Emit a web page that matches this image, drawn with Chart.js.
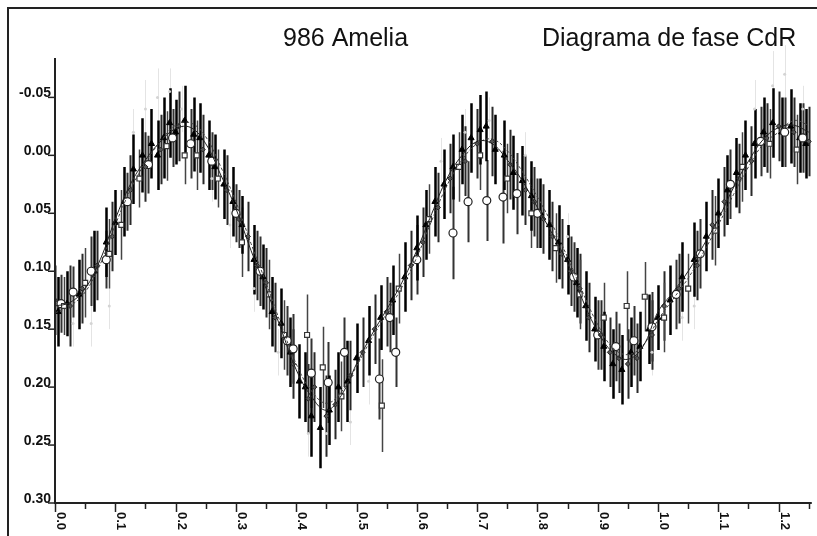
<!DOCTYPE html>
<html lang="es">
<head>
<meta charset="utf-8">
<title>986 Amelia — Diagrama de fase CdR</title>
<script src="https://cdn.jsdelivr.net/npm/chart.js@4/dist/chart.umd.min.js"></script>
<style>
  html, body { margin: 0; padding: 0; background: #fff; }
  canvas { display: block; }
</style>
</head>
<body>
<canvas id="phaseChart" width="817" height="536"></canvas>
<script>
/* ============================================================
   Diagrama de fase — 986 Amelia (magnitud relativa vs fase)
   ============================================================ */

const titleLeft  = '986 Amelia';
const titleRight = 'Diagrama de fase CdR';

const xTicks = [0.0, 0.1, 0.2, 0.3, 0.4, 0.5, 0.6, 0.7, 0.8, 0.9, 1.0, 1.1, 1.2];
const yTicks = [-0.05, 0.00, 0.05, 0.10, 0.15, 0.20, 0.25, 0.30];

/* ── curvas de ajuste ── */
const fitPhase = [0, 0.025, 0.05, 0.075, 0.1, 0.125, 0.15, 0.175, 0.2, 0.225, 0.25, 0.275, 0.3, 0.325, 0.35,
  0.375, 0.4, 0.425, 0.45, 0.475, 0.5, 0.525, 0.55, 0.575, 0.6, 0.625, 0.65, 0.675, 0.7, 0.725, 0.75,
  0.775, 0.8, 0.825, 0.85, 0.875, 0.9, 0.925, 0.95, 0.975, 1.0, 1.025, 1.05, 1.075, 1.1, 1.125, 1.15,
  1.175, 1.2, 1.225, 1.25];
const fitMain = [0.130, 0.127, 0.115, 0.090, 0.055, 0.025, 0.004, -0.012, -0.023, -0.024, -0.010, 0.017,
  0.046, 0.082, 0.115, 0.150, 0.185, 0.208, 0.220, 0.207, 0.180, 0.155, 0.133, 0.110, 0.082, 0.050,
  0.020, 0.000, -0.012, -0.010, 0.004, 0.022, 0.045, 0.068, 0.093, 0.125, 0.152, 0.170, 0.176, 0.165,
  0.135, 0.118, 0.100, 0.078, 0.055, 0.028, 0.005, -0.014, -0.024, -0.026, -0.020];
const fitAlt = [0.136, 0.130, 0.118, 0.094, 0.060, 0.030, 0.006, -0.012, -0.026, -0.028, -0.016, 0.010,
  0.040, 0.076, 0.110, 0.146, 0.180, 0.203, 0.214, 0.204, 0.182, 0.158, 0.136, 0.114, 0.088, 0.056,
  0.026, 0.004, -0.010, -0.014, -0.004, 0.014, 0.036, 0.060, 0.088, 0.118, 0.146, 0.166, 0.172, 0.164,
  0.142, 0.124, 0.106, 0.084, 0.060, 0.034, 0.010, -0.010, -0.020, -0.030, -0.026];

/* ── observaciones: [fase, magnitud, error] ── */
const obsTriangles = [
  [0.005,0.135,0.030],[0.020,0.128,0.028],[0.040,0.120,0.030],[0.065,0.100,0.035],[0.085,0.075,0.030],
  [0.100,0.058,0.028],[0.115,0.040,0.030],[0.130,0.012,0.030],[0.145,0.000,0.032],[0.160,-0.010,0.030],
  [0.170,0.000,0.030],[0.180,-0.015,0.035],[0.190,-0.028,0.030],[0.200,-0.020,0.028],[0.215,-0.030,0.030],
  [0.230,-0.018,0.032],[0.240,-0.015,0.030],[0.255,0.000,0.030],[0.265,0.010,0.028],[0.280,0.025,0.030],
  [0.295,0.040,0.030],[0.310,0.060,0.025],[0.330,0.090,0.030],[0.345,0.105,0.028],[0.360,0.135,0.030],
  [0.375,0.145,0.030],[0.390,0.170,0.030],[0.405,0.195,0.032],[0.415,0.200,0.030],[0.425,0.225,0.035],
  [0.440,0.235,0.035],[0.455,0.220,0.030],[0.470,0.200,0.030],[0.485,0.195,0.035],[0.500,0.175,0.030],
  [0.520,0.160,0.030],[0.540,0.140,0.028],[0.560,0.125,0.030],[0.580,0.105,0.030],[0.600,0.080,0.028],
  [0.615,0.060,0.030],[0.630,0.040,0.030],[0.645,0.025,0.030],[0.660,0.010,0.028],[0.675,-0.005,0.030],
  [0.690,-0.015,0.030],[0.705,-0.022,0.030],[0.715,-0.025,0.030],[0.730,-0.005,0.030],[0.745,0.000,0.030],
  [0.760,0.015,0.032],[0.775,0.022,0.030],[0.790,0.035,0.030],[0.805,0.050,0.030],[0.820,0.060,0.030],
  [0.835,0.075,0.032],[0.850,0.090,0.030],[0.865,0.110,0.030],[0.880,0.130,0.030],[0.895,0.150,0.028],
  [0.910,0.165,0.030],[0.925,0.180,0.030],[0.940,0.185,0.030],[0.955,0.170,0.030],[0.970,0.165,0.030],
  [0.985,0.150,0.030],[1.000,0.140,0.028],[1.020,0.125,0.030],[1.040,0.105,0.030],[1.060,0.090,0.032],
  [1.080,0.070,0.030],[1.100,0.050,0.030],[1.115,0.030,0.030],[1.130,0.015,0.030],[1.145,0.000,0.030],
  [1.160,-0.010,0.030],[1.175,-0.020,0.030],[1.190,-0.028,0.030],[1.205,-0.020,0.030],[1.220,-0.025,0.032],
  [1.235,-0.015,0.030],[1.245,-0.010,0.030],
];
const obsCircles = [
  [0.010,0.128,0.025],[0.030,0.118,0.022],[0.060,0.100,0.030],[0.085,0.090,0.025],[0.120,0.040,0.025],
  [0.155,0.008,0.025],[0.195,-0.015,0.025],[0.225,-0.010,0.030],[0.260,0.005,0.025],[0.300,0.050,0.025],
  [0.340,0.100,0.030],[0.385,0.160,0.030],[0.395,0.167,0.030],[0.425,0.188,0.030],[0.453,0.196,0.035],
  [0.480,0.170,0.030],[0.538,0.193,0.035],[0.565,0.170,0.030],[0.555,0.140,0.030],[0.600,0.090,0.030],
  [0.660,0.067,0.040],[0.685,0.040,0.035],[0.716,0.039,0.035],[0.743,0.036,0.040],[0.766,0.033,0.035],
  [0.800,0.050,0.030],[0.860,0.105,0.030],[0.900,0.155,0.030],[0.930,0.165,0.030],[0.960,0.160,0.030],
  [0.990,0.148,0.030],[1.030,0.120,0.030],[1.070,0.085,0.030],[1.120,0.025,0.030],[1.170,-0.012,0.030],
  [1.210,-0.020,0.030],[1.240,-0.015,0.030],
];
const obsSquares = [
  [0.015,0.130,0.025],[0.050,0.110,0.030],[0.090,0.085,0.030],[0.110,0.060,0.030],[0.140,0.020,0.025],
  [0.185,-0.008,0.030],[0.215,0.000,0.025],[0.235,0.000,0.030],[0.270,0.020,0.025],[0.310,0.075,0.030],
  [0.355,0.120,0.030],[0.380,0.155,0.030],[0.418,0.155,0.035],[0.444,0.183,0.035],[0.475,0.208,0.030],
  [0.542,0.216,0.040],[0.570,0.115,0.030],[0.620,0.055,0.030],[0.670,0.010,0.030],[0.705,0.000,0.030],
  [0.750,0.020,0.030],[0.790,0.050,0.030],[0.830,0.080,0.030],[0.870,0.120,0.030],[0.910,0.140,0.030],
  [0.948,0.130,0.030],[0.978,0.122,0.030],[1.010,0.140,0.030],[1.050,0.115,0.030],[1.095,0.065,0.030],
  [1.140,0.010,0.030],[1.185,-0.010,0.030],[1.230,-0.005,0.030],
];
const obsDiamonds = [
  [0.000,0.125,0.030],[0.025,0.130,0.035],[0.045,0.115,0.030],[0.070,0.095,0.030],[0.095,0.070,0.030],
  [0.125,0.030,0.030],[0.150,0.010,0.030],[0.175,-0.005,0.030],[0.205,-0.025,0.030],[0.245,-0.005,0.030],
  [0.285,0.030,0.030],[0.305,0.055,0.025],[0.320,0.070,0.030],[0.335,0.095,0.030],[0.350,0.110,0.030],
  [0.365,0.140,0.030],[0.395,0.180,0.030],[0.420,0.210,0.030],[0.430,0.200,0.030],[0.450,0.225,0.035],
  [0.465,0.215,0.030],[0.490,0.190,0.030],[0.510,0.170,0.030],[0.530,0.150,0.030],[0.550,0.135,0.030],
  [0.590,0.095,0.030],[0.610,0.075,0.030],[0.635,0.045,0.030],[0.655,0.020,0.030],[0.680,0.005,0.030],
  [0.700,-0.010,0.030],[0.725,-0.012,0.030],[0.755,0.008,0.030],[0.780,0.030,0.030],[0.795,0.040,0.030],
  [0.810,0.055,0.030],[0.825,0.070,0.030],[0.840,0.085,0.030],[0.855,0.100,0.030],[0.870,0.115,0.030],
  [0.885,0.140,0.030],[0.905,0.155,0.030],[0.920,0.170,0.030],[0.935,0.175,0.030],[0.950,0.180,0.030],
  [0.965,0.175,0.030],[0.990,0.155,0.030],[1.010,0.130,0.030],[1.035,0.115,0.030],[1.065,0.095,0.030],
  [1.090,0.060,0.030],[1.110,0.040,0.030],[1.135,0.020,0.030],[1.155,0.005,0.030],[1.180,-0.015,0.030],
  [1.200,-0.025,0.030],[1.225,-0.020,0.030],[1.250,-0.012,0.030],
];
const obsFaint = [
  [0.030,0.145,0.020],[0.060,0.145,0.020],[0.090,0.130,0.020],[0.130,-0.020,0.020],[0.150,-0.040,0.025],
  [0.170,-0.050,0.025],[0.190,-0.055,0.020],[0.210,-0.040,0.020],[0.260,0.020,0.020],[0.290,0.060,0.020],
  [0.330,0.115,0.020],[0.370,0.170,0.020],[0.420,0.240,0.020],[0.450,0.240,0.020],[0.490,0.230,0.020],
  [0.520,0.195,0.020],[0.640,0.005,0.020],[0.680,-0.020,0.020],[0.720,-0.030,0.020],[0.780,0.000,0.020],
  [0.850,0.070,0.020],[0.990,0.170,0.020],[1.040,0.140,0.020],[1.060,0.130,0.020],[1.160,-0.040,0.025],
  [1.190,-0.060,0.030],[1.210,-0.070,0.025],[1.240,-0.040,0.020],
];

/* ─── helpers ─────────────────────────────────────────────── */
const toPoints = rows => rows.map(([x, y, e]) => ({ x, y, e }));
const FONT = '"Liberation Sans", Arial, sans-serif';

/* barras de error verticales, debajo de los marcadores */
const errorBars = {
  id: 'errorBars',
  beforeDatasetsDraw(chart) {
    const { ctx, scales: { x, y } } = chart;
    chart.data.datasets.forEach(ds => {
      if (!ds.errColor) return;
      ctx.save();
      ctx.strokeStyle = ds.errColor;
      ctx.lineWidth   = ds.errWidth;
      ctx.beginPath();
      ds.data.forEach(p => {
        const px = Math.round(x.getPixelForValue(p.x)) + 0.5;
        ctx.moveTo(px, y.getPixelForValue(p.y - p.e));
        ctx.lineTo(px, y.getPixelForValue(p.y + p.e));
      });
      ctx.stroke();
      ctx.restore();
    });
  },
};

/* marco, ejes, marcas y textos */
const frameAxes = {
  id: 'frameAxes',
  afterDraw(chart) {
    const { ctx, chartArea: a, scales: { x, y } } = chart;
    ctx.save();
    ctx.strokeStyle = '#222';
    ctx.fillStyle   = '#111';

    /* marco exterior */
    ctx.lineWidth = 2;
    ctx.beginPath();
    ctx.moveTo(8, 536); ctx.lineTo(8, 8); ctx.lineTo(817, 8);
    ctx.stroke();

    /* ejes */
    ctx.beginPath();
    ctx.moveTo(a.left, a.top); ctx.lineTo(a.left, a.bottom); ctx.lineTo(a.right, a.bottom);
    ctx.stroke();

    /* eje Y */
    ctx.lineWidth    = 1.5;
    ctx.font         = 'bold 14px ' + FONT;
    ctx.textAlign    = 'right';
    ctx.textBaseline = 'alphabetic';
    yTicks.forEach(v => {
      const py = y.getPixelForValue(v);
      ctx.beginPath(); ctx.moveTo(a.left - 7, py); ctx.lineTo(a.left, py); ctx.stroke();
      ctx.fillText(v.toFixed(2), a.left - 4, py);
    });

    /* eje X: marcas mayores, menores y etiquetas giradas */
    ctx.font = 'bold 13px ' + FONT;
    xTicks.forEach(v => {
      const px = Math.round(x.getPixelForValue(v)) + 0.5;
      ctx.beginPath(); ctx.moveTo(px, a.bottom); ctx.lineTo(px, a.bottom + 9); ctx.stroke();
      const mx = Math.round(x.getPixelForValue(v + 0.05)) + 0.5;
      if (v + 0.05 <= x.max + 0.001) {
        ctx.beginPath(); ctx.moveTo(mx, a.bottom); ctx.lineTo(mx, a.bottom + 6); ctx.stroke();
      }
      ctx.save();
      ctx.translate(px + 1, a.bottom + 9);
      ctx.rotate(Math.PI / 2);
      ctx.textAlign = 'left';
      ctx.fillText(v.toFixed(1), 0, 0);
      ctx.restore();
    });

    /* títulos */
    ctx.font      = '25px ' + FONT;
    ctx.textAlign = 'left';
    ctx.fillText(titleLeft, 283, 46);
    ctx.fillText(titleRight, 542, 46);
    ctx.restore();
  },
};

/* ─── gráfico ─────────────────────────────────────────────── */
new Chart(document.getElementById('phaseChart'), {
  type: 'scatter',
  data: {
    datasets: [
      {
        label: 'faint', data: toPoints(obsFaint),
        pointStyle: 'circle', pointRadius: 1.5,
        backgroundColor: '#d4d4d4', borderColor: '#d4d4d4', borderWidth: 0,
        errColor: '#e4e4e4', errWidth: 1,
      },
      {
        label: 'ajuste 1', type: 'line', data: fitPhase.map((p, i) => ({ x: p, y: fitMain[i] })),
        borderColor: '#222', borderWidth: 1, pointRadius: 0, tension: 0.4, fill: false,
      },
      {
        label: 'ajuste 2', type: 'line', data: fitPhase.map((p, i) => ({ x: p, y: fitAlt[i] })),
        borderColor: '#444', borderWidth: 1, borderDash: [3, 2], pointRadius: 0, tension: 0.4, fill: false,
      },
      {
        label: 'rombos', data: toPoints(obsDiamonds),
        pointStyle: 'rectRot', pointRadius: 2.5,
        backgroundColor: '#555', borderColor: '#222', borderWidth: 1,
        errColor: '#2a2a2a', errWidth: 2,
      },
      {
        label: 'cuadrados', data: toPoints(obsSquares),
        pointStyle: 'rect', pointRadius: 3.5,
        backgroundColor: '#fff', borderColor: '#333', borderWidth: 1.2,
        errColor: '#444', errWidth: 1.5,
      },
      {
        label: 'círculos', data: toPoints(obsCircles),
        pointStyle: 'circle', pointRadius: 4,
        backgroundColor: '#fff', borderColor: '#222', borderWidth: 1.2,
        errColor: '#333', errWidth: 2,
      },
      {
        label: 'triángulos', data: toPoints(obsTriangles),
        pointStyle: 'triangle', pointRadius: 3.5,
        backgroundColor: '#000', borderColor: '#000', borderWidth: 1,
        errColor: '#000', errWidth: 2.5,
      },
    ],
  },
  options: {
    responsive       : false,
    animation        : false,
    devicePixelRatio : 1,
    layout: { padding: { left: 55, right: 5, top: 58, bottom: 33 } },
    plugins: { legend: { display: false }, tooltip: { enabled: false } },
    scales: {
      x: { type: 'linear', min: 0, max: 1.255, display: false },
      y: { type: 'linear', min: -0.084, max: 0.30, reverse: true, display: false },
    },
  },
  plugins: [errorBars, frameAxes],
});
</script>
</body>
</html>
